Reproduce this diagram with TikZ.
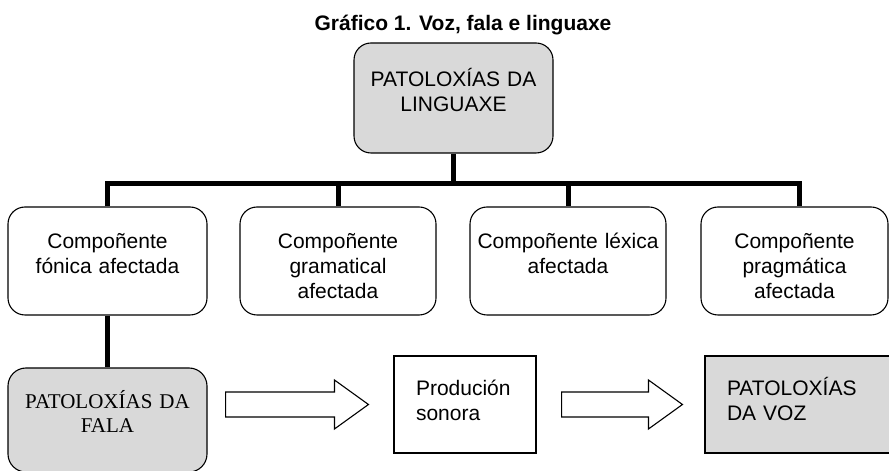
\documentclass[tikz,border=0pt]{standalone}
\usepackage{fontspec}
\setmainfont{Liberation Sans}
\newfontfamily\serifa{Liberation Serif}
\usetikzlibrary{positioning,calc}

\definecolor{gris}{RGB}{217,217,217}

\tikzset{
  caixa/.style={draw, line width=1.1pt, rounded corners=17pt, inner sep=0pt,
    align=center, font=\fontsize{21}{25}\selectfont},
  cadrada/.style={draw, line width=1.1pt, inner xsep=22pt, inner ysep=0pt,
    align=left, text height=40pt, text depth=57pt, font=\fontsize{21}{25}\selectfont},
  cinza/.style={fill=gris},
  titulo/.style={anchor=base, inner sep=0pt, font=\bfseries\fontsize{21}{25}\selectfont},
  conector/.style={line width=5pt},
  frecha/.style={line width=1.1pt, to path={let \p1=(\tikztostart), \p2=(\tikztotarget) in
    (\x1,\y1+12.5pt) -- (\x2-34pt,\y1+12.5pt) -- (\x2-34pt,\y1+24.5pt) -- (\x2,\y1)
    -- (\x2-34pt,\y1-24.5pt) -- (\x2-34pt,\y1-12.5pt) -- (\x1,\y1-12.5pt) -- cycle}}
}

\begin{document}
\begin{tikzpicture}[x=1pt, y=1pt, node distance=160pt, on grid]
   \useasboundingbox (0,0) rectangle (889,471);
   \node[titulo] (titulo) at (463,440) {Gráfico 1. Voz, fala e linguaxe};
   \node[caixa,cinza,text width=199pt,text height=44pt,text depth=66pt] (lingua) at (453.5,373) {PATOLOXÍAS DA\\LINGUAXE};
   % compoñentes
   \node[caixa,text width=199pt,text height=42pt,text depth=66pt] (c1) [below left=163pt and 346pt of lingua] {Compoñente\\fónica afectada};
   \node[caixa,text width=196pt,text height=42pt,text depth=66pt] (c2) [right=230.5pt of c1] {Compoñente\\gramatical\\afectada};
   \node[caixa,text width=196pt,text height=42pt,text depth=66pt] (c3) [right=230pt of c2] {Compoñente léxica\\afectada};
   \node[caixa,text width=187pt,text height=42pt,text depth=66pt] (c4) [right=226.5pt of c3] {Compoñente\\pragmática\\afectada};
   % fila de abaixo
   \node[caixa,cinza,font=\serifa\fontsize{21}{24}\selectfont,rounded corners=18pt,
         text width=199pt,text height=41pt,text depth=63pt] (fala) [below=159pt of c1] {PATOLOXÍAS DA\\FALA};
   \node[cadrada,text width=98pt] (prod) [above right=15.5pt and 357.5pt of fala] {Produción\\sonora};
   \node[cadrada,cinza,text width=141pt] (voz) [right=332.5pt of prod] {PATOLOXÍAS\\DA VOZ};

   \coordinate (barra) at ([yshift=-29.5pt]lingua.south);
   \draw[conector] (lingua.south) -- (barra);
   \draw[conector] (c1.north) |- (barra) -| ([xshift=5pt]c4.north);
   \draw[conector] (barra -| c2.north) -- (c2.north);
   \draw[conector] (barra -| c3.north) -- (c3.north);
   \draw[conector] (c1.south) -- (fala.north);

   \coordinate (f1i) at ($(fala.east |- prod.west)+(18,0)$);
   \coordinate (f1f) at ($(prod.west)+(-25,0)$);
   \coordinate (f2i) at ($(prod.east)+(25,0)$);
   \coordinate (f2f) at ($(voz.west)+(-22,0)$);
   \draw[frecha] (f1i) to (f1f);
   \draw[frecha] (f2i) to (f2f);
\end{tikzpicture}
\end{document}
